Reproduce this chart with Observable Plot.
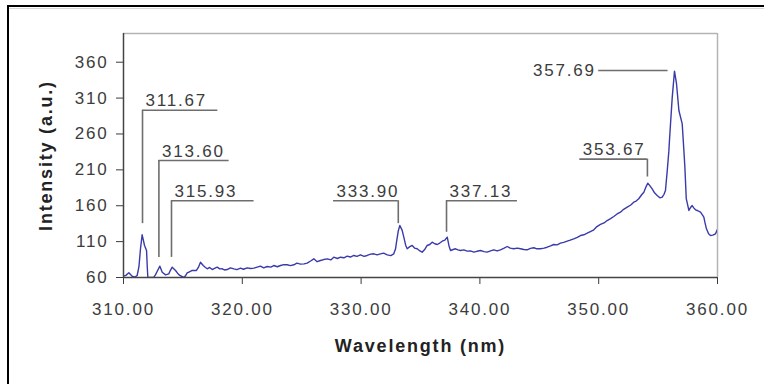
<!DOCTYPE html>
<html><head><meta charset="utf-8">
<script src="https://cdn.jsdelivr.net/npm/d3@7"></script>
<script src="https://cdn.jsdelivr.net/npm/@observablehq/plot@0.6"></script>
<style>
body{margin:0;background:#fff;}
#wrap{position:relative;width:764px;height:384px;overflow:hidden;background:#fff;}
#frame{position:absolute;left:7px;top:5px;width:800px;height:400px;border-top:2px solid #000;border-left:2px solid #000;}
#shade{position:absolute;left:9px;top:8px;width:800px;height:1px;background:#d8d8d8;}
#chart{position:absolute;left:0;top:0;}
#chart svg text{letter-spacing:1.8px;}
#chart svg text.ttl{letter-spacing:1.4px;}
</style></head><body>
<div id="wrap"><div id="frame"></div><div id="shade"></div><div id="chart"></div></div>
<script>
const wavelength = [
310.00,310.20,310.45,310.73,310.95,311.15,311.30,311.43,311.57,311.67,311.77,311.94,312.00,312.05,312.30,312.55,312.70,312.83,313.06,313.26,
313.54,313.81,313.95,314.10,314.25,314.38,314.55,314.74,315.08,315.20,315.36,315.55,315.78,316.14,316.30,316.48,316.71,316.90,317.05,317.25,
317.47,317.70,317.89,318.10,318.31,318.50,318.73,319.00,319.29,319.55,319.85,320.10,320.41,320.70,320.97,321.25,321.53,321.80,322.10,322.40,
322.65,322.95,323.22,323.50,323.78,324.05,324.34,324.60,324.90,325.20,325.46,325.75,326.02,326.30,326.58,326.85,327.15,327.45,327.70,328.00,
328.27,328.55,328.83,329.10,329.39,329.65,329.95,330.25,330.51,330.80,331.07,331.35,331.63,331.90,332.20,332.50,332.75,332.90,332.98,333.13,
333.26,333.45,333.60,333.75,333.88,334.10,334.30,334.50,334.72,334.95,335.14,335.35,335.56,335.78,335.98,336.20,336.41,336.62,336.83,337.05,
337.25,337.40,337.53,337.75,337.95,338.15,338.37,338.65,338.93,339.20,339.49,339.75,340.05,340.35,340.61,340.90,341.17,341.45,341.73,342.00,
342.30,342.55,342.85,343.15,343.42,343.70,343.98,344.25,344.54,344.80,345.10,345.40,345.66,345.95,346.22,346.50,346.78,347.05,347.35,347.60,
347.90,348.20,348.47,348.75,349.03,349.30,349.59,349.85,350.15,350.45,350.71,351.00,351.27,351.55,351.83,352.10,352.40,352.70,352.95,353.15,
353.37,353.60,353.80,354.00,354.13,354.30,354.50,354.70,354.92,355.15,355.35,355.50,355.62,355.77,355.90,355.99,356.19,356.38,356.55,356.75,
357.03,357.17,357.25,357.37,357.59,357.75,357.87,358.00,358.15,358.35,358.57,358.70,358.85,358.95,359.07,359.25,359.41,359.60,359.83,360.00
];
const intensity = [
62,63,66.5,61.8,60.5,62.8,75,100,119.5,112,104.6,97.6,75,60,60,60.5,64,68.4,75.8,67.4,
63.7,65.1,70,74.4,72,69.8,66,62.8,60,62,66.5,68,69.8,69.8,74,81.3,76.7,74,72.1,74,
71.1,73,74.4,72,72.1,70.5,71.1,73.5,72.1,71,73,71.5,73.5,72.5,73,74.5,75.8,73.5,75.3,74.5,
76.7,75,76.7,78,77.7,76.5,77.7,80,78.6,79,80,83,86,82,83.7,85,86,84.5,88.3,86.5,
88.3,87.5,89.7,88.5,90.7,89.5,91.6,89.5,90.7,92.5,93,91.5,93,94,91.6,90.5,93,100,109.2,125,
132.5,126,116,105,100,103,104.6,101,100,97,95.3,99,104.6,106,109.2,107,106,108,110.6,112,
116.2,104,97.6,99,100,98.5,97.6,98.5,96.7,97,95.3,96.5,97.6,96,95.3,97,98.6,97,98.6,100.5,
103.2,101,100,101,100,99,98.6,100.5,101.4,100,100,101,102.2,104,106,105.5,107.8,109,110.6,112,
113.9,116,118.5,119.5,121.7,124,126.4,131,133.9,136,139.4,142,145,148.5,151,155,158,161,165,166.5,
169.7,175,178.9,187,191.4,188,183.6,178,174.3,171,171.9,176,181.2,209,235,260,311,347.5,330,292.7,
274,237,215,170,153.4,158,160.3,157,154.3,153,151,148,144,136,127.8,121,118.5,119,120.9,127
];
const xTicks = [310, 320, 330, 340, 350, 360];
const yTicks = [60, 110, 160, 210, 260, 310, 360];
const peakLabels = ["311.67", "313.60", "315.93", "333.90", "337.13", "353.67", "357.69"];
const leaderX = [311.60, 312.98, 314.04, 333.13, 337.19, 354.10, 355.84];
const leaderBottom = [135, 88, 88, 135, 123, 200, 348.5];
const leaderTop = [293, 223, 167, 167, 167, 225, 348.5];
const leaderEnd = [317.94, 318.89, 320.99, 327.68, 343.16, 348.41, 350.0];
const xTitle = "Wavelength (nm)";
const yTitle = "Intensity (a.u.)";

const spectrum = wavelength.map((w, i) => ({w, v: intensity[i]}));
const leaders = peakLabels.map((label, i) => ({
  label, x: leaderX[i], y1: leaderBottom[i], y2: leaderTop[i], xEnd: leaderEnd[i],
  xLeft: Math.min(leaderX[i], leaderEnd[i])
}));
const above = leaders.filter(d => d.y1 !== d.y2);
const side = leaders.filter(d => d.y1 === d.y2);

const font = "Liberation Sans, Arial, sans-serif";
const chart = Plot.plot({
  width: 764, height: 384,
  marginTop: 33, marginRight: 47, marginBottom: 107, marginLeft: 123,
  x: {domain: [310, 360]},
  y: {domain: [60, 400]},
  style: {fontFamily: font, background: "transparent", overflow: "visible"},
  marks: [
    Plot.ruleY([400], {stroke: "#b4b4b4", strokeWidth: 1.5}),
    Plot.ruleX([360], {stroke: "#b4b4b4", strokeWidth: 1.5}),
    Plot.line(spectrum, {x: "w", y: "v", stroke: "#3a3aab", strokeWidth: 1.4, clip: true}),
    Plot.ruleX(above, {x: "x", y1: "y1", y2: "y2", stroke: "#6e6e6e", strokeWidth: 1.6}),
    Plot.ruleY(leaders, {y: "y2", x1: "x", x2: "xEnd", stroke: "#6e6e6e", strokeWidth: 1.6}),
    Plot.text(above, {x: "xLeft", y: "y2", text: "label", textAnchor: "start", lineAnchor: "bottom", dx: 3, dy: -4, fontSize: 17, fill: "#3c3c3c"}),
    Plot.text(side, {x: "xLeft", y: "y2", text: "label", textAnchor: "end", lineAnchor: "middle", dx: -3, fontSize: 17, fill: "#3c3c3c"}),
    Plot.axisX(xTicks, {tickSize: 7, tickPadding: 18, tickFormat: d => d.toFixed(2), fontSize: 17, color: "#3c3c3c", label: null}),
    Plot.axisY(yTicks, {tickSize: 7, tickPadding: 8, tickFormat: d => String(d), fontSize: 17, color: "#3c3c3c", label: null}),
    Plot.ruleX([310], {stroke: "#444", strokeWidth: 1.5}),
    Plot.ruleY([60], {stroke: "#444", strokeWidth: 1.5}),
    Plot.text([xTitle], {frameAnchor: "bottom", dy: 74, textAnchor: "middle", lineAnchor: "bottom", fontWeight: "bold", fontSize: 18, fill: "#222", className: "ttl"}),
    Plot.text([yTitle], {frameAnchor: "left", dx: -72, rotate: -90, textAnchor: "middle", lineAnchor: "bottom", fontWeight: "bold", fontSize: 18, fill: "#222", className: "ttl"})
  ]
});
document.getElementById("chart").appendChild(chart);
</script>
</body></html>
